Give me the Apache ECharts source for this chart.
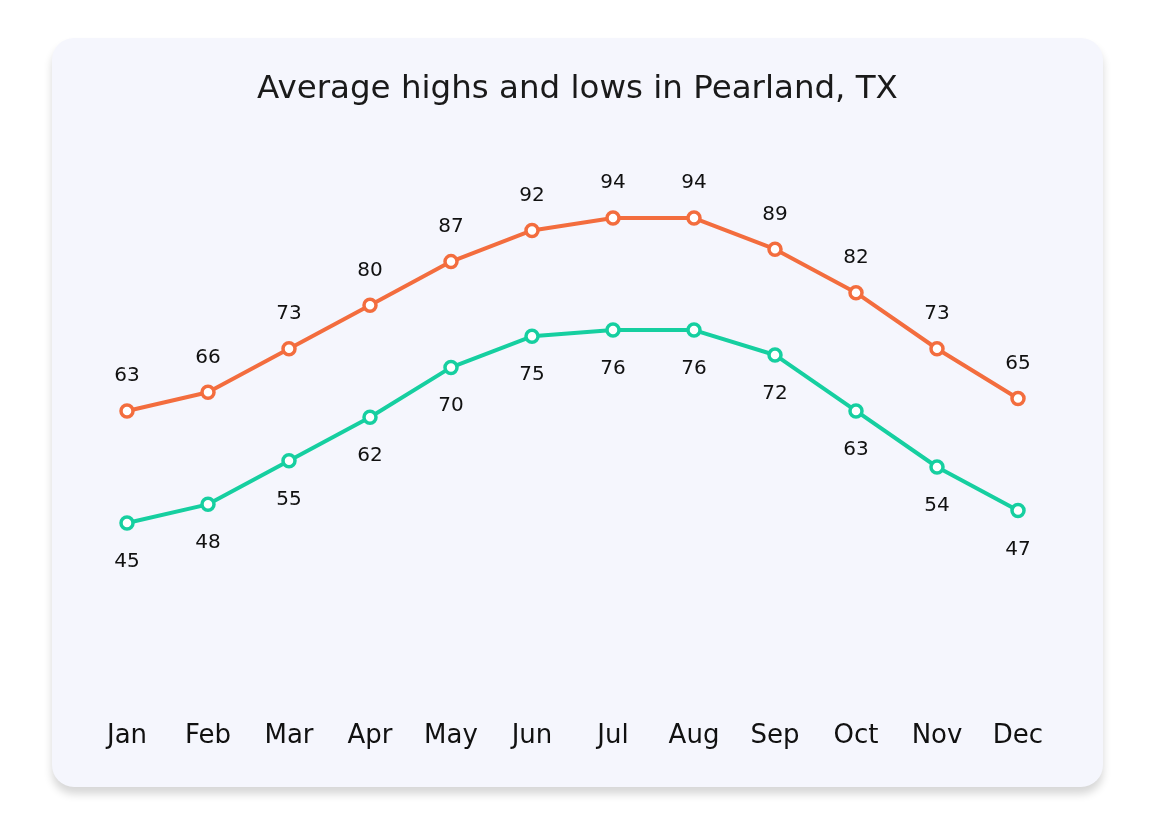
<!DOCTYPE html>
<html><head><meta charset="utf-8">
<script src="https://cdn.jsdelivr.net/npm/echarts@6/dist/echarts.min.js"></script>
<style>
html,body{margin:0;padding:0;background:#fff;width:1155px;height:825px;overflow:hidden;}
#card{position:absolute;left:52px;top:38px;width:1051px;height:749px;background:#f5f6fd;border-radius:22px;box-shadow:0 7px 8px rgba(0,0,0,0.16);}
#chart{position:absolute;left:0;top:0;width:1155px;height:825px;}
</style></head>
<body>
<div id="card"></div>
<div id="chart"></div>
<script>
const months = ['Jan','Feb','Mar','Apr','May','Jun','Jul','Aug','Sep','Oct','Nov','Dec'];
const highs = [63,66,73,80,87,92,94,94,89,82,73,65];
const lows = [45,48,55,62,70,75,76,76,72,63,54,47];
const titleText = 'Average highs and lows in Pearland, TX';
const FONT = '"DejaVu Sans", "Open Sans", sans-serif';

const chart = echarts.init(document.getElementById('chart'), null, {renderer:'canvas'});
chart.setOption({
  backgroundColor: 'transparent',
  animation: false,
  title: {
    text: titleText, left: 'center', top: 68,
    textStyle: {fontFamily: FONT, fontSize: 32.5, fontWeight: 'normal', color: '#1a1a1a'}
  },
  grid: {left: 86.5, right: 96.5, top: 180.7, bottom: 146.4},
  xAxis: {
    type: 'category', data: months, boundaryGap: true,
    axisLine: {show: false}, axisTick: {show: false}, splitLine: {show: false},
    axisLabel: {fontFamily: FONT, fontSize: 26, color: '#111', margin: 45}
  },
  yAxis: {
    type: 'value', min: 20, max: 100, show: false, splitLine: {show: false}
  },
  series: [
    {
      name: 'High', type: 'line', data: highs,
      symbol: 'circle', symbolSize: 12,
      lineStyle: {color: '#f36d3e', width: 4},
      itemStyle: {color: '#ffffff', borderColor: '#f36d3e', borderWidth: 3.5},
      label: {show: true, position: 'top', distance: 17, fontFamily: FONT, fontSize: 20, color: '#111'},
      emphasis: {disabled: true}
    },
    {
      name: 'Low', type: 'line', data: lows,
      symbol: 'circle', symbolSize: 12,
      lineStyle: {color: '#16cfa0', width: 4},
      itemStyle: {color: '#ffffff', borderColor: '#16cfa0', borderWidth: 3.5},
      label: {show: true, position: 'bottom', distance: 21, fontFamily: FONT, fontSize: 20, color: '#111'},
      emphasis: {disabled: true}
    }
  ]
});
</script>
</body></html>
